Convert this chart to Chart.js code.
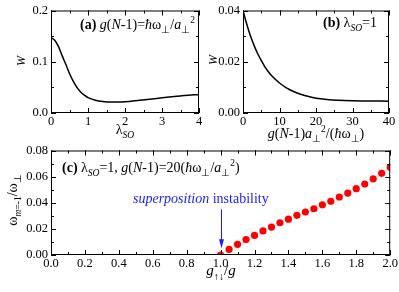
<!DOCTYPE html>
<html lang="en">
<head>
<meta charset="UTF-8">
<title>W and collective mode vs parameters</title>
<style>
  body { margin: 0; background: #fff; }
  #wrap { position: relative; width: 399px; height: 292px; }
  canvas { position: absolute; }
</style>
</head>
<body>
<div id="wrap">
  <canvas id="chartA" width="215" height="145" style="left:0;top:0"></canvas>
  <canvas id="chartB" width="199" height="145" style="left:200px;top:0"></canvas>
  <canvas id="chartC" width="399" height="152" style="left:0;top:140px"></canvas>
</div>
<script src="https://cdn.jsdelivr.net/npm/chart.js"></script>
<script>
// (a) W vs lambda_SO
const lambdaSO = [0, 0.1, 0.2, 0.3, 0.4, 0.5, 0.6, 0.7, 0.8, 0.9, 1.0, 1.2, 1.4, 1.6, 1.8, 2.0, 2.4, 2.8, 3.2, 3.6, 4.0];
const widthA   = [0.147, 0.142, 0.130, 0.112, 0.095, 0.077, 0.062, 0.050, 0.041, 0.035, 0.030, 0.025, 0.0225, 0.0215, 0.0215, 0.022, 0.025, 0.028, 0.031, 0.034, 0.036];

// (b) W vs g(N-1)
const gN     = [0, 1, 2, 3, 4, 5, 6, 7, 8, 10, 12, 14, 16, 18, 20, 23, 26, 30, 35, 40];
const widthB = [0.040, 0.0348, 0.0302, 0.0265, 0.0232, 0.0205, 0.0180, 0.0160, 0.0143, 0.0117, 0.0097, 0.0083, 0.0072, 0.0064, 0.0058, 0.0053, 0.0050, 0.0048, 0.0047, 0.0046];

// (c) omega_{m=-1} vs g_updown/g
const gRatio = [1.0, 1.05, 1.1, 1.15, 1.2, 1.25, 1.3, 1.35, 1.4, 1.45, 1.5, 1.55, 1.6, 1.65, 1.7, 1.75, 1.8, 1.85, 1.9, 1.95, 2.0];
const omega  = [0, 0.0043, 0.0082, 0.0118, 0.0150, 0.0184, 0.0214, 0.0247, 0.0274, 0.0304, 0.0329, 0.0354, 0.0384, 0.0411, 0.0444, 0.0474, 0.0508, 0.0543, 0.0583, 0.0625, 0.0671];

// instability marker
const instabilityAt = 1.0;
const arrowFrom = 0.035;
const arrowTo = 0.0052;

const FAM = '"Liberation Serif", "Times New Roman", serif';
const BLUE = '#1a1aff';

Chart.defaults.font.family = FAM;
Chart.defaults.color = '#000';

// draws text made of runs: [text, 'i b sub sup']
function drawRich(ctx, runs, x, y, size, color, align, rotate) {
  const parts = runs.map(([t, f]) => {
    const fl = (f || '').split(' ');
    const small = fl.includes('sub') || fl.includes('sup');
    const s = small ? size * 0.68 : size;
    const font = (fl.includes('i') ? 'italic ' : '') + (fl.includes('b') ? 'bold ' : '') + s + 'px ' + FAM;
    ctx.font = font;
    const dy = fl.includes('sub') ? size * 0.3 : fl.includes('sup') ? -size * 0.42 : 0;
    return { t, font, dy, w: ctx.measureText(t).width };
  });
  const total = parts.reduce((a, p) => a + p.w, 0);
  ctx.save();
  ctx.translate(x, y);
  if (rotate) ctx.rotate(rotate);
  ctx.fillStyle = color || '#000';
  ctx.textBaseline = 'alphabetic';
  ctx.textAlign = 'left';
  let cx = align === 'center' ? -total / 2 : 0;
  parts.forEach(p => {
    ctx.font = p.font;
    ctx.fillText(p.t, cx, p.dy);
    cx += p.w;
  });
  ctx.restore();
}

const richText = {
  id: 'richText',
  afterDraw(chart, args, opts) {
    (opts.items || []).forEach(it => {
      drawRich(chart.ctx, it.runs, it.x, it.y, it.size, it.color, it.align, it.rotate);
    });
  }
};

// box frame with inward ticks on all four sides
const frameTicks = {
  id: 'frameTicks',
  afterDatasetsDraw(chart, args, opts) {
    const { ctx, chartArea: a, scales: { x, y } } = chart;
    ctx.save();
    ctx.strokeStyle = '#000';
    ctx.lineWidth = 1;
    ctx.strokeRect(a.left + 0.5, a.top + 0.5, a.right - a.left - 1, a.bottom - a.top - 1);
    const mark = (scale, step, len, horiz) => {
      const n = Math.round((scale.max - scale.min) / step);
      for (let i = 0; i <= n; i++) {
        const v = scale.min + i * step;
        const p = Math.round(scale.getPixelForValue(v)) + 0.5;
        ctx.beginPath();
        if (horiz) {
          ctx.moveTo(p, a.bottom); ctx.lineTo(p, a.bottom - len);
          ctx.moveTo(p, a.top); ctx.lineTo(p, a.top + len);
        } else {
          ctx.moveTo(a.left, p); ctx.lineTo(a.left + len, p);
          ctx.moveTo(a.right, p); ctx.lineTo(a.right - len, p);
        }
        ctx.stroke();
      }
    };
    mark(x, opts.xMinor, 3, true);
    mark(x, opts.xMajor, 5, true);
    mark(y, opts.yMinor, 3, false);
    mark(y, opts.yMajor, 5, false);
    ctx.restore();
  }
};

const arrowMark = {
  id: 'arrowMark',
  afterDatasetsDraw(chart, args, opts) {
    if (!opts.show) return;
    const { ctx, scales: { x, y } } = chart;
    const px = Math.round(x.getPixelForValue(opts.at)) + 0.5;
    const y0 = y.getPixelForValue(opts.from);
    const y1 = y.getPixelForValue(opts.to);
    ctx.save();
    ctx.strokeStyle = opts.color;
    ctx.fillStyle = opts.color;
    ctx.lineWidth = 1;
    ctx.beginPath();
    ctx.moveTo(px, y0); ctx.lineTo(px, y1 - 6);
    ctx.stroke();
    ctx.beginPath();
    ctx.moveTo(px, y1); ctx.lineTo(px - 2.5, y1 - 9); ctx.lineTo(px + 2.5, y1 - 9);
    ctx.closePath();
    ctx.fill();
    ctx.restore();
  }
};

Chart.register(richText, frameTicks, arrowMark);

function axis(min, max, step, digits, size, fitKey, padding) {
  return {
    type: 'linear', min, max,
    grid: { display: false, drawTicks: false },
    border: { display: false },
    ticks: {
      stepSize: step, autoSkip: false, maxRotation: 0, padding,
      color: '#000', font: { family: FAM, size: 12.5 },
      callback: v => Number(v).toFixed(digits)
    },
    afterFit: s => { s[fitKey] = size; }
  };
}

function baseOptions(pad, xs, ys, frame, items, arrow) {
  return {
    responsive: false,
    animation: false,
    devicePixelRatio: 1,
    layout: { padding: pad },
    scales: { x: xs, y: ys },
    plugins: {
      legend: { display: false },
      tooltip: { enabled: false },
      frameTicks: frame,
      richText: { items },
      arrowMark: arrow || { show: false }
    }
  };
}

const pts = (xs, ys) => xs.map((v, i) => ({ x: v, y: ys[i] }));

const lineSet = (xs, ys) => ({
  data: pts(xs, ys),
  borderColor: '#000', borderWidth: 1.5,
  pointRadius: 0, fill: false,
  cubicInterpolationMode: 'monotone'
});

// (a)
new Chart(document.getElementById('chartA'), {
  type: 'line',
  data: { datasets: [lineSet(lambdaSO, widthA)] },
  options: baseOptions(
    { left: 0, top: 6, right: 16, bottom: 0 },
    axis(0, 4, 1, 0, 32, 'height', 1),
    axis(0, 0.2, 0.1, 1, 51, 'width', 3),
    { xMajor: 1, xMinor: 0.5, yMajor: 0.1, yMinor: 0.05 },
    [
      { runs: [['(a) ', 'b'], ['g', 'i'], ['('], ['N', 'i'], ['-1)='], ['ħ', 'i'], ['ω'], ['⊥', 'sub'], ['/'], ['a', 'i'], ['⊥', 'sub'], ['2', 'sup']], x: 80, y: 29, size: 14 },
      { runs: [['λ'], ['SO', 'i sub']], x: 125, y: 134, size: 14, align: 'center' },
      { runs: [['W', 'i']], x: 25, y: 61, size: 12, align: 'center', rotate: -Math.PI / 2 }
    ]
  )
});

// (b)
new Chart(document.getElementById('chartB'), {
  type: 'line',
  data: { datasets: [lineSet(gN, widthB)] },
  options: baseOptions(
    { left: 0, top: 6, right: 10, bottom: 0 },
    axis(0, 40, 10, 0, 32, 'height', 1),
    axis(0, 0.04, 0.02, 2, 43, 'width', 3),
    { xMajor: 10, xMinor: 5, yMajor: 0.02, yMinor: 0.01 },
    [
      { runs: [['(b) ', 'b'], ['λ'], ['SO', 'i sub'], ['=1']], x: 123, y: 27, size: 14 },
      { runs: [['g', 'i'], ['('], ['N', 'i'], ['-1)'], ['a', 'i'], ['⊥', 'sub'], ['2', 'sup'], ['/('], ['ħ', 'i'], ['ω'], ['⊥', 'sub'], [')']], x: 116, y: 138, size: 14, align: 'center' },
      { runs: [['W', 'i']], x: 17, y: 60, size: 12, align: 'center', rotate: -Math.PI / 2 }
    ]
  )
});

// (c)
new Chart(document.getElementById('chartC'), {
  type: 'scatter',
  data: {
    datasets: [{
      data: pts(gRatio, omega),
      showLine: false,
      pointRadius: 3.6,
      pointBackgroundColor: '#ff0000',
      pointBorderWidth: 0,
      clip: 0
    }]
  },
  options: baseOptions(
    { left: 0, top: 8, right: 8, bottom: 0 },
    axis(0, 2, 0.2, 1, 37, 'height', 1),
    axis(0, 0.08, 0.02, 2, 51, 'width', 3),
    { xMajor: 0.2, xMinor: 0.1, yMajor: 0.02, yMinor: 0.01 },
    [
      { runs: [['(c) ', 'b'], ['λ'], ['SO', 'i sub'], ['=1, '], ['g', 'i'], ['('], ['N', 'i'], ['-1)=20('], ['ħ', 'i'], ['ω'], ['⊥', 'sub'], ['/'], ['a', 'i'], ['⊥', 'sub'], ['2', 'sup'], [')']], x: 62, y: 32, size: 14 },
      { runs: [['superposition', 'i'], [' instability']], x: 133, y: 63, size: 14, color: BLUE },
      { runs: [['g', 'i'], ['↑↓', 'sub'], ['/'], ['g', 'i']], x: 221, y: 135, size: 15, align: 'center' },
      { runs: [['ω'], ['m', 'i sub'], ['=-1', 'sub'], ['/ω'], ['⊥', 'sub']], x: 17, y: 60, size: 14, align: 'center', rotate: -Math.PI / 2 }
    ],
    { show: true, at: instabilityAt, from: arrowFrom, to: arrowTo, color: BLUE }
  )
});
</script>
</body>
</html>
